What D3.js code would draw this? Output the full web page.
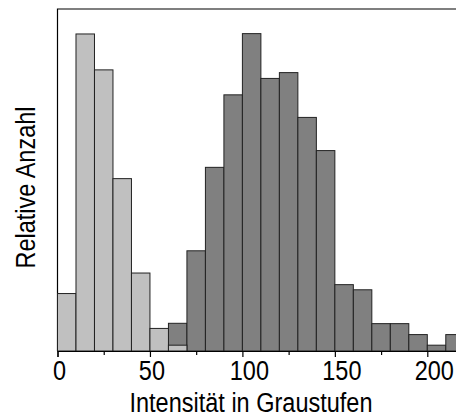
<!DOCTYPE html>
<html><head><meta charset="utf-8">
<script src="https://cdn.jsdelivr.net/npm/d3@7"></script>
<style>html,body{margin:0;padding:0;background:#fff;overflow:hidden}svg{display:block}</style>
</head><body>
<script>
// Bin start values (width 10 grey levels)
const binWidth = 10;
const lightBins = [0, 10, 20, 30, 40, 50, 60];
const lightValues = [16.8, 92.7, 82.2, 50.4, 22.8, 6.6, 1.7];
const darkBins = [60, 70, 80, 90, 100, 110, 120, 130, 140, 150, 160, 170, 180, 190, 200, 210];
const darkValues = [8.1, 29.3, 53.7, 74.9, 92.8, 79.7, 81.4, 68.3, 58.6, 19.4, 17.9, 8.0, 8.0, 4.8, 1.7, 4.8];
const majorTicks = [0, 50, 100, 150, 200];
const minorTicks = [25, 75, 125, 175];
const xTitle = "Intensität in Graustufen";
const yTitle = "Relative Anzahl";

(function () {
const W = 456, H = 417;
const svg = d3.select("body").append("svg").attr("width", W).attr("height", H);
const mLeft = 57.5, mTop = 9, mBottom = 351;
const x = d3.scaleLinear().domain([0, 230]).range([mLeft, mLeft + 230 * 1.849]);
const y = d3.scaleLinear().domain([0, 100]).range([mBottom, mTop]);
const font = "'Liberation Sans', Arial, sans-serif";
const fs = 28, sx = 0.84;

// frame (left + top)
svg.append("path").attr("d", `M${mLeft},${mBottom}V${mTop}H${W + 10}`)
  .attr("fill", "none").attr("stroke", "#000").attr("stroke-width", 1.2);

function bars(bins, vals, fill) {
  svg.append("g").selectAll("rect").data(bins).join("rect")
    .attr("x", d => x(d))
    .attr("width", d => x(d + binWidth) - x(d))
    .attr("y", (d, i) => y(vals[i]))
    .attr("height", (d, i) => y(0) - y(vals[i]))
    .attr("fill", fill).attr("stroke", "#222").attr("stroke-width", 1);
}
bars(darkBins, darkValues, "#808080");
bars(lightBins, lightValues, "#c0c0c0");

// x axis
const ax = svg.append("g").attr("transform", `translate(0,${mBottom})`)
  .call(d3.axisBottom(x).tickValues(majorTicks).tickSize(6).tickFormat(""));
ax.select(".domain").attr("stroke", "#000").attr("stroke-width", 1.2);
ax.selectAll(".tick line").attr("stroke", "#000").attr("stroke-width", 1.2);
const axm = svg.append("g").attr("transform", `translate(0,${mBottom})`)
  .call(d3.axisBottom(x).tickValues(minorTicks).tickSize(4).tickFormat(""));
axm.select(".domain").remove();
axm.selectAll(".tick line").attr("stroke", "#000").attr("stroke-width", 1.2);

// tick labels (condensed look)
svg.append("g").selectAll("text").data(majorTicks).join("text")
  .attr("transform", d => `translate(${x(d) + (d >= 100 ? 7 : 2)},380) scale(${sx},1)`)
  .attr("text-anchor", "middle").attr("font-family", font).attr("font-size", fs)
  .attr("fill", "#000").text(d => d3.format("d")(d));

svg.append("text").attr("transform", `translate(251,411.5) scale(${sx},1)`).attr("text-anchor", "middle")
  .attr("font-family", font).attr("font-size", fs).attr("fill", "#000").text(xTitle);
svg.append("text").attr("transform", `translate(35,187.5) rotate(-90) scale(${sx},1)`).attr("text-anchor", "middle")
  .attr("font-family", font).attr("font-size", fs).attr("fill", "#000").text(yTitle);
})();
</script>
</body></html>
